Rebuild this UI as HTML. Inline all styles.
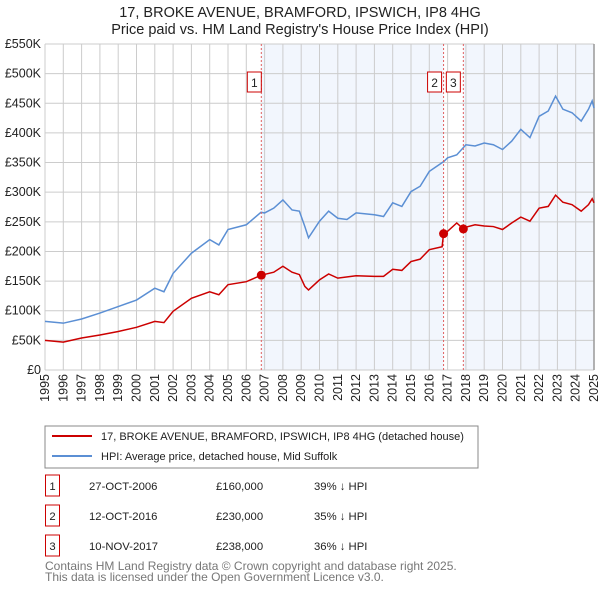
<!DOCTYPE html>
<html><head><meta charset="utf-8"><style>
body{margin:0;background:#fff;font-family:"Liberation Sans","DejaVu Sans",sans-serif;}
#wrap{position:relative;width:600px;height:590px;overflow:hidden;}
</style></head><body>
<div id="wrap">
<svg id="chart" width="600" height="590" viewBox="0 0 600 590" xmlns="http://www.w3.org/2000/svg" style="font-family:'Liberation Sans','DejaVu Sans',sans-serif">
<text x="300" y="17" text-anchor="middle" font-size="14.5" fill="#222">17, BROKE AVENUE, BRAMFORD, IPSWICH, IP8 4HG</text>
<text x="300" y="34" text-anchor="middle" font-size="14.5" fill="#222">Price paid vs. HM Land Registry's House Price Index (HPI)</text>
<g id="shade"></g><g id="grid"></g><g id="axes"></g><g id="series"></g><g id="marks"></g>
<rect x="45" y="426" width="433" height="42" fill="#fff" stroke="#888"/>
<line x1="52" y1="436" x2="92" y2="436" stroke="#cc0000" stroke-width="2"/>
<text x="101" y="440" font-size="11" fill="#222">17, BROKE AVENUE, BRAMFORD, IPSWICH, IP8 4HG (detached house)</text>
<line x1="52" y1="456" x2="92" y2="456" stroke="#5b8fd4" stroke-width="2"/>
<text x="101" y="460" font-size="11" fill="#222">HPI: Average price, detached house, Mid Suffolk</text>
<g id="table" font-size="11.3" fill="#222"></g>
<text x="45" y="570" font-size="12" fill="#777">Contains HM Land Registry data © Crown copyright and database right 2025.</text>
<text x="45" y="581" font-size="12" fill="#777">This data is licensed under the Open Government Licence v3.0.</text>
</svg>
</div>
<script>
const hpiYears=[1995,1996,1997,1998,1999,2000,2001,2001.5,2002,2003,2004,2004.5,2005,2006,2006.8,2007,2007.5,2008,2008.5,2008.9,2009.2,2009.4,2010,2010.5,2011,2011.5,2012,2013,2013.5,2014,2014.5,2015,2015.5,2016,2016.8,2017,2017.5,2018,2018.5,2019,2019.5,2020,2020.5,2021,2021.5,2022,2022.5,2022.9,2023.3,2023.8,2024.3,2024.7,2024.9,2025];
const hpiValues=[82,79,86,96,107,118,138,132,163,197,220,211,237,245,266,265,273,287,270,268,242,223,251,268,256,254,265,262,259,282,276,301,310,335,352,358,363,380,378,383,380,372,386,406,392,428,437,462,440,434,420,440,454,442];
const priceYears=[1995,1996,1997,1998,1999,2000,2001,2001.5,2002,2003,2004,2004.5,2005,2006,2006.82,2007.5,2008,2008.5,2008.9,2009.2,2009.4,2010,2010.5,2011,2012,2013,2013.5,2014,2014.5,2015,2015.5,2016,2016.7,2016.78,2017,2017.5,2017.86,2018,2018.5,2019,2019.5,2020,2020.5,2021,2021.5,2022,2022.5,2022.9,2023.3,2023.8,2024.3,2024.7,2024.9,2025];
const priceValues=[50,47,54,59,65,72,82,80,99,121,132,127,144,149,160,165,175,165,161,141,135,152,162,155,159,158,158,170,168,183,187,203,208,230,234,248,238,241,245,243,242,237,248,258,251,273,276,295,283,279,268,279,289,282];
const saleIds=["1","2","3"];
const saleYears=[2006.82,2016.78,2017.86];
const saleValues=[160,230,238];
const saleDates=["27-OCT-2006","12-OCT-2016","10-NOV-2017"];
const salePrices=["£160,000","£230,000","£238,000"];
const saleDiffs=["39% ↓ HPI","35% ↓ HPI","36% ↓ HPI"];
const yTicks=[0,50,100,150,200,250,300,350,400,450,500,550];
const yTickLabels=["£0","£50K","£100K","£150K","£200K","£250K","£300K","£350K","£400K","£450K","£500K","£550K"];
const xTicks=[1995,1996,1997,1998,1999,2000,2001,2002,2003,2004,2005,2006,2007,2008,2009,2010,2011,2012,2013,2014,2015,2016,2017,2018,2019,2020,2021,2022,2023,2024,2025];

const NS="http://www.w3.org/2000/svg";
const X0=45,X1=594,Y0=370,Y1=44;
const xs=y=>X0+(y-1995)/30*(X1-X0);
const ys=v=>Y0-v/550*(Y0-Y1);
function mk(tag,attrs,parent,text){const e=document.createElementNS(NS,tag);for(const k in attrs)e.setAttribute(k,attrs[k]);if(text!==undefined)e.textContent=text;document.getElementById(parent).appendChild(e);return e;}

let e;
e=mk('rect',{x:X0,y:Y1,width:X1-X0,height:Y0-Y1,fill:'#fff'},'shade');


e=mk('rect',{x:xs(saleYears[0]),y:Y1,width:xs(saleYears[1])-xs(saleYears[0]),height:Y0-Y1,fill:'#f2f6fd'},'shade');


e=mk('rect',{x:xs(saleYears[2]),y:Y1,width:X1-xs(saleYears[2]),height:Y0-Y1,fill:'#f2f6fd'},'shade');



yTicks.forEach((v,i)=>{
 e=mk('line',{x1:X0,x2:X1,y1:ys(v),y2:ys(v),stroke:'#cccccc','stroke-width':1},'grid');
 
 
 e=mk('text',{x:X0-4,y:ys(v)+4,'text-anchor':'end','font-size':12.5,fill:'#222'},'axes',yTickLabels[i]);
 
 
});
xTicks.forEach(y=>{
 e=mk('line',{x1:xs(y),x2:xs(y),y1:Y1,y2:Y0,stroke:'#cccccc','stroke-width':1},'grid');
 
 
 const tx=xs(y)+4,ty=Y0+4;
 e=mk('text',{x:tx,y:ty,'text-anchor':'end','font-size':12.5,fill:'#222',transform:`rotate(-90 ${tx} ${ty})`},'axes',String(y));
 
 
});
e=mk('line',{x1:X1,x2:X1,y1:Y1,y2:Y0,stroke:'#999','stroke-width':1.5},'grid');



e=mk('polyline',{points:hpiYears.map((y,i)=>xs(y)+','+ys(hpiValues[i])).join(' '),fill:'none',stroke:'#5b8fd4','stroke-width':1.5},'series');


e=mk('polyline',{points:priceYears.map((y,i)=>xs(y)+','+ys(priceValues[i])).join(' '),fill:'none',stroke:'#cc0000','stroke-width':1.5},'series');



saleYears.forEach((y,i)=>{
 const x=xs(y);
 const off=(i===0?-14:(i===1?-16:-17));
 e=mk('line',{x1:x,x2:x,y1:Y1,y2:Y0,stroke:'#e06060','stroke-width':1,'stroke-dasharray':'2,2'},'marks');
 
 
 e=mk('circle',{cx:x,cy:ys(saleValues[i]),r:4.5,fill:'#cc0000'},'marks');
 
 
 e=mk('rect',{x:x+off,y:72,width:14,height:20,fill:'#fff',stroke:'#cc0000'},'marks');
 
 
 e=mk('text',{x:x+off+7,y:87,'text-anchor':'middle','font-size':12,fill:'#222'},'marks',saleIds[i]);
 
 

 const ry=475+i*30;
 e=mk('rect',{x:45.5,y:ry,width:14,height:21,fill:'#fff',stroke:'#cc0000'},'table');
 
 
 e=mk('text',{x:52.5,y:ry+15,'text-anchor':'middle'},'table',saleIds[i]);
 
 
 e=mk('text',{x:89,y:ry+15},'table',saleDates[i]);
 
 
 e=mk('text',{x:216,y:ry+15},'table',salePrices[i]);
 
 
 e=mk('text',{x:314,y:ry+15},'table',saleDiffs[i]);
 
 
});
</script>
</body></html>
